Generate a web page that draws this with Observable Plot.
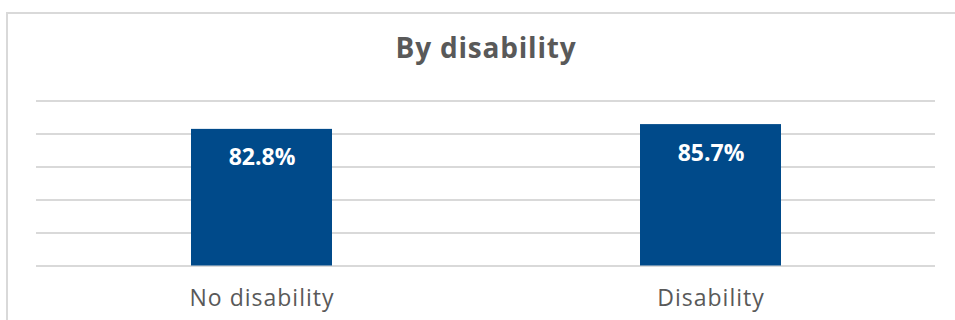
<!DOCTYPE html>
<html>
<head>
<meta charset="utf-8">
<script src="https://cdn.jsdelivr.net/npm/d3@7"></script>
<script src="https://cdn.jsdelivr.net/npm/@observablehq/plot@0.6"></script>
<style>
  html, body { margin: 0; padding: 0; background: #fff; }
  body { width: 955px; height: 320px; position: relative; overflow: hidden; font-family: "Open Sans", sans-serif; }
  #frame { position: absolute; left: 6px; top: 12px; width: 1000px; height: 400px; border: 2px solid #d9d9d9; box-sizing: border-box; }
  #title { position: absolute; left: 0; top: 29px; width: 972px; text-align: center; font-size: 28px; font-weight: 700; color: #595959; line-height: 36px; letter-spacing: 0.8px; }
  #chart { position: absolute; left: 0; top: 80px; }
</style>
</head>
<body>
<div id="frame"></div>
<div id="title">By disability</div>
<div id="chart"></div>
<script>
const categories = ["No disability", "Disability"];
const values = [82.8, 85.7];
const labels = ["82.8%", "85.7%"];
const gridTicks = [0, 20, 40, 60, 80, 100];

const data = categories.map((c, i) => ({ category: c, value: values[i], label: labels[i] }));

const chart = Plot.plot({
  width: 955,
  height: 240,
  marginTop: 20.5,
  marginBottom: 54.5,
  marginLeft: 36,
  marginRight: 20,
  style: { fontFamily: "Open Sans, sans-serif", background: "transparent" },
  x: { domain: categories, paddingInner: 0.686, paddingOuter: 0.343, label: null },
  y: { domain: [0, 100], axis: null },
  marks: [
    Plot.ruleY(gridTicks, { stroke: "#d9d9d9", strokeWidth: 2 }),
    Plot.barY(data, { x: "category", y: "value", fill: "#004a8a" }),
    Plot.text(data, { x: "category", y: "value", text: "label", fill: "#ffffff", fontSize: 23, fontWeight: 700, lineAnchor: "bottom", dy: 36, style: { letterSpacing: "0.6px" } }),
    Plot.axisX({ tickSize: 0, tickPadding: 24, fontSize: 23, color: "#595959", label: null })
  ]
});
chart.querySelectorAll("[aria-label='x-axis tick label'] text").forEach(t => t.style.letterSpacing = "1px");
document.getElementById("chart").appendChild(chart);
</script>
</body>
</html>
